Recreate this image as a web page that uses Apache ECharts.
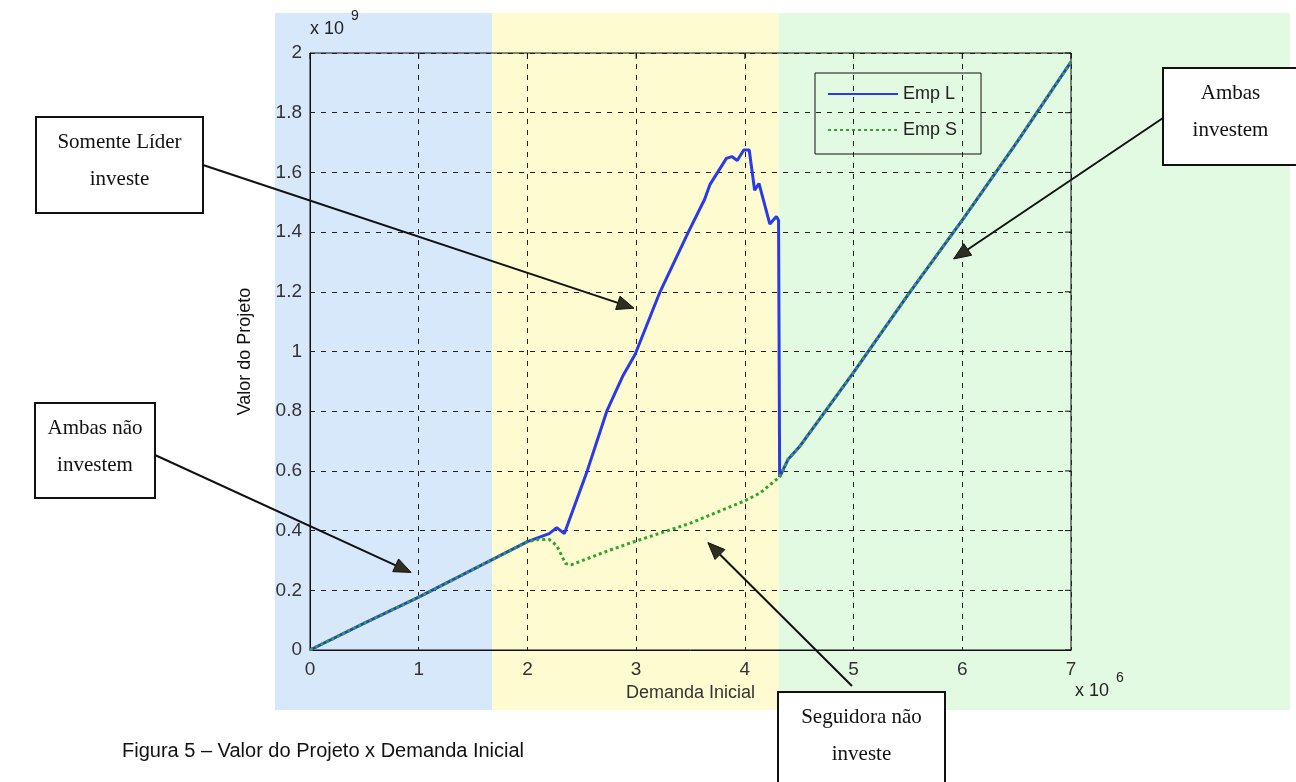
<!DOCTYPE html>
<html>
<head>
<meta charset="utf-8">
<script src="https://cdn.jsdelivr.net/npm/echarts@6/dist/echarts.min.js"></script>
<style>
  html, body { margin: 0; background: #fff; }
  #chart { width: 1296px; height: 782px; }
</style>
</head>
<body>
<div id="chart"></div>
<script>
// valores (x em 10^6, y em 10^9)
const demandaL = [0, 0.5, 1.0, 1.5, 2.0, 2.2, 2.27, 2.34, 2.45, 2.55, 2.73, 2.88, 2.99, 3.22, 3.48, 3.63, 3.68, 3.83, 3.88, 3.93, 3.99, 4.04, 4.09, 4.13, 4.23, 4.29, 4.31, 4.32, 4.4, 4.5, 5.0, 5.5, 6.0, 6.5, 7.0]
const valorL = [0, 0.09, 0.177, 0.27, 0.363, 0.39, 0.41, 0.39, 0.50, 0.60, 0.80, 0.92, 0.99, 1.2, 1.4, 1.51, 1.56, 1.647, 1.653, 1.64, 1.675, 1.675, 1.54, 1.563, 1.427, 1.452, 1.44, 0.58, 0.64, 0.68, 0.93, 1.19, 1.44, 1.70, 1.97]
const demandaS = [0, 0.5, 1.0, 1.5, 2.0, 2.1, 2.2, 2.27, 2.35, 2.4, 2.76, 3.0, 3.5, 4.0, 4.14, 4.32, 4.4, 4.5, 5.0, 5.5, 6.0, 6.5, 7.0]
const valorS = [0, 0.09, 0.177, 0.27, 0.363, 0.37, 0.37, 0.35, 0.29, 0.285, 0.335, 0.365, 0.425, 0.50, 0.526, 0.58, 0.64, 0.68, 0.93, 1.19, 1.44, 1.70, 1.97]
const seriesNames = ['Emp L', 'Emp S']
const regionBreaks = [1.675, 4.31]

// anotações: texto, caixa e ponto apontado (coordenadas de dados)
const notes = [
  { lines: ['Somente Líder', 'investe'], box: [36, 117, 167, 96], from: [203, 165], tip: [2.98, 1.145] },
  { lines: ['Ambas não', 'investem'], box: [35, 403, 120, 95], from: [155, 455], tip: [0.93, 0.26] },
  { lines: ['Ambas', 'investem'], box: [1163, 68, 135, 97], from: [1163, 118], tip: [5.92, 1.31] },
  { lines: ['Seguidora não', 'investe'], box: [778, 692, 167, 100], from: [852, 686], tip: [3.66, 0.36] }
]

const SANS = '"Liberation Sans", Arial, Helvetica, sans-serif'
const SERIF = '"Liberation Serif", "Times New Roman", serif'
const chart = echarts.init(document.getElementById('chart'))

const axisLbl = { color: '#333', fontSize: 19, fontFamily: SANS }
const options = {
  animation: false,
  grid: { left: 310, right: 225, top: 53, bottom: 132, show: true, borderColor: '#111', borderWidth: 1 },
  legend: {
    data: seriesNames,
    orient: 'vertical',
    left: 815,
    top: 73,
    padding: [12, 24, 15, 12],
    itemWidth: 70,
    itemHeight: 14,
    itemGap: 18,
    borderColor: '#111',
    borderWidth: 1,
    itemStyle: { opacity: 0 },
    textStyle: { fontSize: 18, color: '#222', fontFamily: SANS }
  },
  xAxis: [
    {
      type: 'value', min: 0, max: 7, interval: 1,
      name: 'Demanda Inicial', nameLocation: 'middle', nameGap: 34,
      nameTextStyle: { color: '#333', fontSize: 18, fontFamily: SANS },
      axisLine: { lineStyle: { color: '#111' } },
      axisTick: { show: false },
      axisLabel: Object.assign({ margin: 10 }, axisLbl),
      splitLine: { show: true, lineStyle: { color: '#222', type: [5, 6] } }
    }
  ],
  yAxis: [
    {
      type: 'value', min: 0, max: 2, interval: 0.2,
      name: 'Valor do Projeto', nameLocation: 'middle', nameGap: 56, nameRotate: 90,
      nameTextStyle: { color: '#111', fontSize: 18, fontFamily: SANS },
      axisLine: { show: true, lineStyle: { color: '#111' } },
      axisTick: { show: false },
      axisLabel: Object.assign({ margin: 8 }, axisLbl),
      splitLine: { show: true, lineStyle: { color: '#222', type: [5, 6] } }
    }
  ],
  series: [
    {
      name: seriesNames[0], type: 'line', symbol: 'none', showSymbol: false,
      lineStyle: { color: '#2a3ae8', width: 3 },
      itemStyle: { color: '#2a3ae8' },
      data: demandaL.map((d, i) => [d, valorL[i]])
    },
    {
      name: seriesNames[1], type: 'line', symbol: 'none', showSymbol: false,
      lineStyle: { color: '#2fa52f', width: 3, type: [3, 3] },
      itemStyle: { color: '#2fa52f' },
      data: demandaS.map((d, i) => [d, valorS[i]])
    }
  ]
}
chart.setOption(options)

// fundo colorido e anotações, posicionados a partir das escalas
const px = (x, y) => chart.convertToPixel({ xAxisIndex: 0, yAxisIndex: 0 }, [x, y])
const b1 = px(regionBreaks[0], 0)[0]
const b2 = px(regionBreaks[1], 0)[0]
const bgTop = 13, bgBottom = 710, bgLeft = 275, bgRight = 1290
const graphic = [
  { type: 'rect', z: -10, silent: true, shape: { x: bgLeft, y: bgTop, width: b1 - bgLeft, height: bgBottom - bgTop }, style: { fill: '#d8e8fb' } },
  { type: 'rect', z: -10, silent: true, shape: { x: b1, y: bgTop, width: b2 - b1, height: bgBottom - bgTop }, style: { fill: '#fffbd0' } },
  { type: 'rect', z: -10, silent: true, shape: { x: b2, y: bgTop, width: bgRight - b2, height: bgBottom - bgTop }, style: { fill: '#e2fae2' } },
  { type: 'text', left: 310, top: 20, style: { text: 'x 10', fontSize: 18, fontFamily: SANS, fill: '#222' } },
  { type: 'text', left: 351, top: 9, style: { text: '9', fontSize: 14, fontFamily: SANS, fill: '#222' } },
  { type: 'text', left: 1075, top: 682, style: { text: 'x 10', fontSize: 18, fontFamily: SANS, fill: '#222' } },
  { type: 'text', left: 1116, top: 671, style: { text: '6', fontSize: 14, fontFamily: SANS, fill: '#222' } },
  { type: 'text', left: 122, top: 741, style: { text: 'Figura 5 – Valor do Projeto x Demanda Inicial', fontSize: 20, fontFamily: SANS, fill: '#111' } }
]

// pequenos traços internos no topo e à direita da moldura
const xTicks = [0, 1, 2, 3, 4, 5, 6, 7]
const yTicks = [0, 0.2, 0.4, 0.6, 0.8, 1, 1.2, 1.4, 1.6, 1.8, 2]
xTicks.forEach(v => {
  const p = px(v, 2)
  graphic.push({ type: 'line', z: 20, silent: true, shape: { x1: p[0], y1: p[1], x2: p[0], y2: p[1] + 6 }, style: { stroke: '#111', lineWidth: 1 } })
})
yTicks.forEach(v => {
  const p = px(7, v)
  graphic.push({ type: 'line', z: 20, silent: true, shape: { x1: p[0], y1: p[1], x2: p[0] - 6, y2: p[1] }, style: { stroke: '#111', lineWidth: 1 } })
})

notes.forEach(n => {
  const tip = px(n.tip[0], n.tip[1])
  const dx = tip[0] - n.from[0], dy = tip[1] - n.from[1]
  const len = Math.sqrt(dx * dx + dy * dy)
  const ux = dx / len, uy = dy / len
  const hl = 17, hw = 7
  const base = [tip[0] - ux * hl, tip[1] - uy * hl]
  graphic.push({ type: 'line', z: 50, silent: true, shape: { x1: n.from[0], y1: n.from[1], x2: base[0], y2: base[1] }, style: { stroke: '#111', lineWidth: 2 } })
  graphic.push({
    type: 'polygon', z: 50, silent: true,
    shape: { points: [tip, [base[0] - uy * hw, base[1] + ux * hw], [base[0] + uy * hw, base[1] - ux * hw]] },
    style: { fill: '#2e2e22', stroke: '#111', lineWidth: 1 }
  })
  const [bx, by, bw, bh] = n.box
  graphic.push({ type: 'rect', z: 60, silent: true, shape: { x: bx, y: by, width: bw, height: bh }, style: { fill: '#fff', stroke: '#111', lineWidth: 2 } })
  n.lines.forEach((t, i) => {
    graphic.push({
      type: 'text', z: 61, silent: true,
      x: bx + bw / 2, y: by + 25 + i * 37,
      style: { text: t, fontSize: 21, fontFamily: SERIF, fill: '#111', align: 'center', verticalAlign: 'middle' }
    })
  })
})
chart.setOption({ graphic: graphic })
</script>
</body>
</html>
